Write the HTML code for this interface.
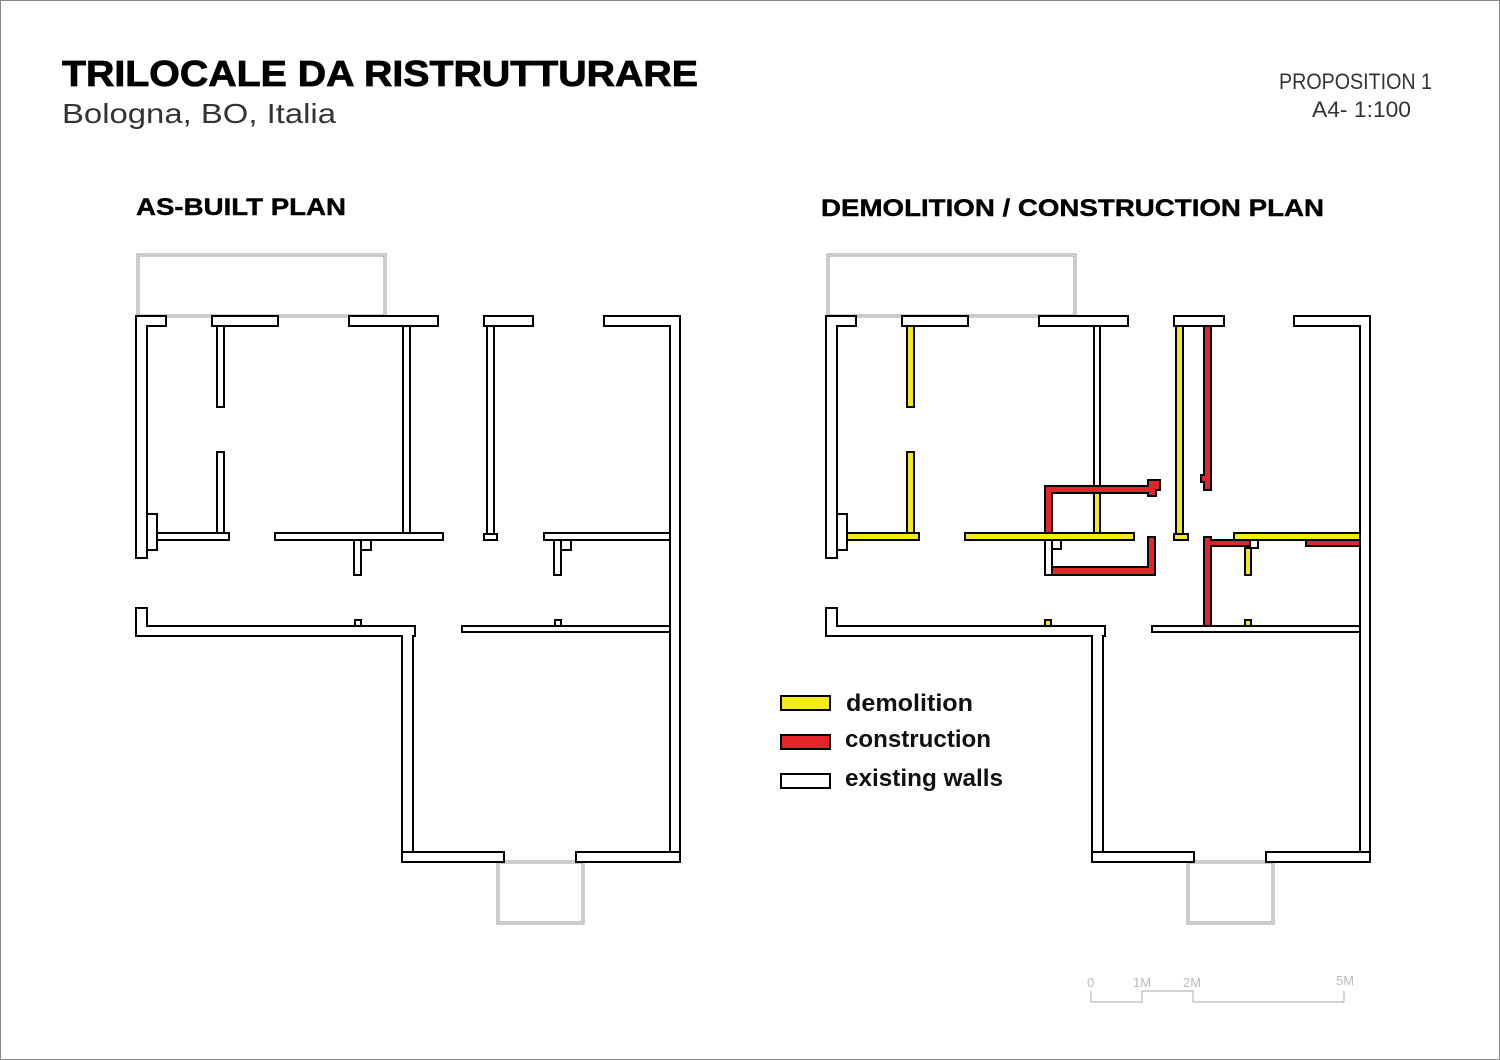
<!DOCTYPE html>
<html><head><meta charset="utf-8"><style>html,body{margin:0;padding:0;background:#fff}svg{display:block}</style></head>
<body>
<svg width="1500" height="1060" viewBox="0 0 1500 1060" xmlns="http://www.w3.org/2000/svg">
<rect x="0.5" y="0.5" width="1499" height="1059" fill="#fff" stroke="#888" stroke-width="1"/>
<g font-family="Liberation Sans, sans-serif">
<text x="62" y="86" font-size="36" font-weight="bold" stroke="#000" stroke-width="0.8" textLength="636" lengthAdjust="spacingAndGlyphs">TRILOCALE DA RISTRUTTURARE</text>
<text x="62" y="123" font-size="28" fill="#333" textLength="274" lengthAdjust="spacingAndGlyphs">Bologna, BO, Italia</text>
<text x="1279" y="89" font-size="22" fill="#333" textLength="153" lengthAdjust="spacingAndGlyphs">PROPOSITION 1</text>
<text x="1312" y="117" font-size="22" fill="#333" textLength="99" lengthAdjust="spacingAndGlyphs">A4-  1:100</text>
<text x="136" y="215" font-size="24" font-weight="bold" stroke="#000" stroke-width="0.4" textLength="210" lengthAdjust="spacingAndGlyphs">AS-BUILT PLAN</text>
<text x="821" y="216" font-size="24" font-weight="bold" stroke="#000" stroke-width="0.4" textLength="503" lengthAdjust="spacingAndGlyphs">DEMOLITION / CONSTRUCTION PLAN</text>
</g>
<defs>
<g id="base" fill="#fff" stroke="#000" stroke-width="2">
<rect x="138" y="255" width="247" height="61" fill="none" stroke="#999" stroke-width="3"/>
<rect x="138" y="255" width="247" height="61" fill="none" stroke="#fff" stroke-width="1"/>
<rect x="498" y="862" width="85" height="61" fill="none" stroke="#999" stroke-width="3"/>
<rect x="498" y="862" width="85" height="61" fill="none" stroke="#fff" stroke-width="1"/>
<path d="M136 316H166V326H147V558H136Z"/>
<rect x="147" y="514" width="10" height="36"/>
<rect x="212" y="316" width="66" height="10"/>
<rect x="349" y="316" width="89" height="10"/>
<rect x="484" y="316" width="49" height="10"/>
<path d="M604 316H680V862H670V326H604Z"/>
<path d="M136 608H147V626H415V636H413V862H402V636H136Z"/>
<rect x="402" y="852" width="102" height="10"/>
<rect x="576" y="852" width="104" height="10"/>
<rect x="462" y="626" width="208" height="6"/>
</g>
</defs>
<use href="#base"/>
<use href="#base" transform="translate(690 0)"/>
<g fill="#fff" stroke="#000" stroke-width="2">
<rect x="217" y="326" width="7" height="81"/>
<rect x="217" y="452" width="7" height="81"/>
<rect x="157" y="533" width="72" height="7"/>
<rect x="403" y="326" width="7" height="207"/>
<rect x="275" y="533" width="168" height="7"/>
<rect x="354" y="540" width="7" height="35"/>
<rect x="361" y="540" width="10" height="10"/>
<rect x="487" y="326" width="7" height="208"/>
<rect x="484" y="534" width="13" height="6"/>
<rect x="544" y="533" width="126" height="7"/>
<rect x="554" y="540" width="7" height="35"/>
<rect x="561" y="540" width="10" height="10"/>
<rect x="355" y="620" width="6" height="6"/>
<rect x="555" y="620" width="6" height="6"/>
</g>
<g stroke="#000" stroke-width="2">
<rect x="907" y="326" width="7" height="81" fill="#f2ea1c"/>
<rect x="907" y="452" width="7" height="81" fill="#f2ea1c"/>
<rect x="847" y="533" width="72" height="7" fill="#f2ea1c"/>
<rect x="1094" y="326" width="6" height="164" fill="#fff"/>
<rect x="965" y="533" width="169" height="7" fill="#f2ea1c"/>
<rect x="1094" y="493" width="6" height="40" fill="#f2ea1c"/>
<path d="M1045 486H1148V480H1160V490H1156V496H1148V493H1052V533H1045Z" fill="#e3252a"/>
<rect x="1045" y="540" width="7" height="35" fill="#fff"/>
<rect x="1052" y="540" width="9" height="9" fill="#fff"/>
<path d="M1148 537H1155V575H1052V567H1148Z" fill="#e3252a"/>
<rect x="1174" y="316" width="50" height="10" fill="#fff"/>
<rect x="1176" y="326" width="7" height="208" fill="#f2ea1c"/>
<rect x="1174" y="534" width="14" height="6" fill="#f2ea1c"/>
<path d="M1204 326H1211V490H1204V482H1201V475H1204Z" fill="#e3252a"/>
<rect x="1234" y="533" width="126" height="7" fill="#f2ea1c"/>
<rect x="1306" y="540" width="54" height="6" fill="#e3252a"/>
<path d="M1204 537H1211V540H1250V546H1211V626H1204Z" fill="#e3252a"/>
<rect x="1250" y="540" width="8" height="8" fill="#fff"/>
<rect x="1245" y="548" width="6" height="27" fill="#f2ea1c"/>
<rect x="1045" y="620" width="6" height="6" fill="#f2ea1c"/>
<rect x="1245" y="620" width="6" height="6" fill="#f2ea1c"/>
<rect x="781" y="696" width="49" height="14" fill="#f2ea1c"/>
<rect x="781" y="735" width="49" height="14" fill="#e3252a"/>
<rect x="781" y="774" width="49" height="14" fill="#fff"/>
</g>
<g font-family="Liberation Sans, sans-serif" font-size="24" font-weight="bold" fill="#111">
<text x="846" y="711" textLength="127" lengthAdjust="spacingAndGlyphs">demolition</text>
<text x="845" y="747" textLength="146" lengthAdjust="spacingAndGlyphs">construction</text>
<text x="845" y="786" textLength="158" lengthAdjust="spacingAndGlyphs">existing walls</text>
</g>
<path d="M1091 991V1002H1142V991H1193V1002H1344V991" fill="none" stroke="#bbb" stroke-width="1.2"/>
<g font-family="Liberation Sans, sans-serif" font-size="13" fill="#bbb">
<text x="1087" y="987">0</text>
<text x="1133" y="987">1M</text>
<text x="1183" y="987">2M</text>
<text x="1336" y="985">5M</text>
</g>
</svg>
</body></html>
